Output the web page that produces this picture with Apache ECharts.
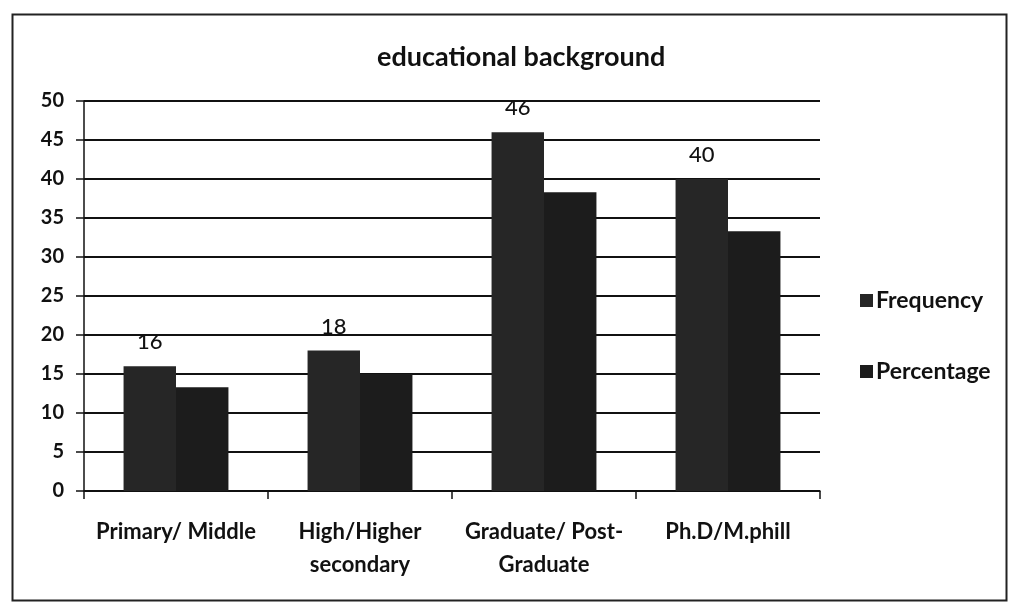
<!DOCTYPE html>
<html>
<head>
<meta charset="utf-8">
<script src="https://cdn.jsdelivr.net/npm/echarts@6/dist/echarts.min.js"></script>
<style>
html,body{margin:0;padding:0;background:#fff;}
#chart{width:1010px;height:609px;}
</style>
</head>
<body>
<div id="chart"></div>
<script>
const categories = ['Primary/ Middle', 'High/Higher\nsecondary', 'Graduate/ Post-\nGraduate', 'Ph.D/M.phill'];
const frequency = [16, 18, 46, 40];
const percentage = [13.3, 15, 38.3, 33.3];
const yTicks = { min: 0, max: 50, interval: 5 };

const FONT = 'Lato';
const chart = echarts.init(document.getElementById('chart'));
chart.setOption({
  backgroundColor: '#ffffff',
  animation: false,
  title: {
    text: 'educational background',
    left: 372,
    top: 39,
    textStyle: { fontFamily: FONT, fontSize: 27, fontWeight: 'bold', color: '#111' }
  },
  graphic: [{
    type: 'rect',
    left: 10, top: 12,
    shape: { width: 994, height: 586 },
    style: { fill: 'none', stroke: '#222', lineWidth: 2 },
    silent: true
  }],
  legend: {
    orient: 'vertical',
    left: 855,
    top: 284,
    itemGap: 48,
    itemWidth: 13,
    itemHeight: 13,
    icon: 'rect',
    textStyle: { fontFamily: FONT, fontSize: 23, fontWeight: 'bold', color: '#111', padding: [0, 0, 0, -2] },
    data: ['Frequency', 'Percentage']
  },
  grid: { left: 84, right: 190, top: 101, bottom: 118 },
  xAxis: {
    type: 'category',
    data: categories,
    axisLine: { lineStyle: { color: '#111', width: 1.5 } },
    axisTick: { show: true, length: 8, inside: false, alignWithLabel: false, lineStyle: { color: '#111', width: 1.5 } },
    axisLabel: { fontFamily: FONT, fontSize: 22, fontWeight: 'bold', color: '#111', margin: 24, lineHeight: 33, interval: 0 }
  },
  yAxis: {
    type: 'value',
    min: yTicks.min, max: yTicks.max, interval: yTicks.interval,
    axisLine: { show: true, lineStyle: { color: '#111', width: 1.5 } },
    axisTick: { show: true, length: 8, lineStyle: { color: '#111', width: 1.5 } },
    axisLabel: { fontFamily: FONT, fontSize: 20, fontWeight: 'bold', color: '#111', margin: 20 },
    splitLine: { show: true, lineStyle: { color: '#111', width: 2 } }
  },
  series: [
    {
      name: 'Frequency',
      type: 'bar',
      data: frequency,
      barGap: '0%',
      barCategoryGap: '43%',
      itemStyle: { color: '#262626' },
      label: { show: true, position: 'top', distance: 13, fontFamily: FONT, fontSize: 22, fontWeight: 500, color: '#111' }
    },
    {
      name: 'Percentage',
      type: 'bar',
      data: percentage,
      barGap: '0%',
      barCategoryGap: '43%',
      itemStyle: { color: '#1c1c1c' }
    }
  ]
});
</script>
</body>
</html>
